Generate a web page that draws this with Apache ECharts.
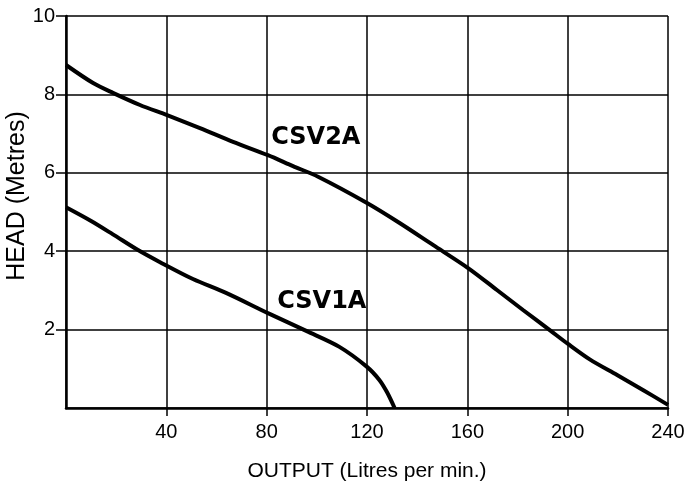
<!DOCTYPE html>
<html>
<head>
<meta charset="utf-8">
<script src="https://cdn.jsdelivr.net/npm/echarts@6/dist/echarts.min.js"></script>
<style>
    html, body { margin: 0; padding: 0; background: #fff; }
    #chart { width: 693px; height: 487px; }
</style>
</head>
<body>
<div id="chart"></div>
<script>
// pump curves: flow (litres/min) and head (metres)
const flowCSV2A = [0, 10.8, 18.7, 29.5, 40.3, 53.4, 66.6, 80.5, 90.5, 100.5, 120, 133, 146.3, 160.3, 171.8, 182.2, 193, 200, 208.8, 219.7, 230, 240]
const headCSV2A = [8.75, 8.29, 8.04, 7.73, 7.47, 7.14, 6.79, 6.45, 6.17, 5.9, 5.23, 4.72, 4.16, 3.57, 3.01, 2.5, 1.98, 1.64, 1.24, 0.84, 0.46, 0.08]

const flowCSV1A = [0, 10, 18.7, 28.7, 37.5, 50.6, 64, 80.5, 96, 109, 120, 125, 128, 131]
const headCSV1A = [5.12, 4.77, 4.43, 4.03, 3.72, 3.29, 2.93, 2.42, 1.96, 1.56, 1.05, 0.71, 0.4, 0.0]

// where the curve names sit (flow, head)
const labelCSV2A = [99.6, 6.9]
const labelCSV1A = [102, 2.71]

const xTicks = { min: 0, max: 240, interval: 40 }
const yTicks = { min: 0, max: 10, interval: 2 }

const pairs = (xs, ys) => xs.map((x, i) => [x, ys[i]])

const nameLabel = (text, coord) => ({
    symbol: 'circle',
    symbolSize: 1,
    itemStyle: { color: 'rgba(0,0,0,0)' },
    label: {
        show: true,
        position: 'inside',
        formatter: text,
        color: '#000',
        fontFamily: 'DejaVu Sans',
        fontWeight: 'bold',
        fontSize: 24
    },
    data: [{ coord: coord }]
})

const curve = (name, xs, ys, labelAt) => ({
    name: name,
    type: 'line',
    smooth: 0.3,
    showSymbol: false,
    lineStyle: { color: '#000', width: 4 },
    data: pairs(xs, ys),
    markPoint: nameLabel(name, labelAt)
})

const charts = echarts.init(document.getElementById('chart'))
charts.setOption({
    animation: false,
    grid: { left: 66, right: 25, top: 16, bottom: 79, outerBoundsMode: 'none', containLabel: false },
    xAxis: {
        type: 'value',
        min: xTicks.min,
        max: xTicks.max,
        interval: xTicks.interval,
        name: 'OUTPUT (Litres per min.)',
        nameLocation: 'middle',
        nameGap: 53,
        nameMoveOverlap: false,
        nameTextStyle: { color: '#000', fontFamily: 'Liberation Sans', fontSize: 21 },
        axisLine: { lineStyle: { color: '#000', width: 2.5 } },
        axisTick: { length: 8, lineStyle: { color: '#000', width: 1.5 } },
        axisLabel: { showMinLabel: false, margin: 14, color: '#000', fontFamily: 'Liberation Sans', fontSize: 20 },
        splitLine: { lineStyle: { color: '#000', width: 1.5 } }
    },
    yAxis: {
        type: 'value',
        min: yTicks.min,
        max: yTicks.max,
        interval: yTicks.interval,
        name: 'HEAD (Metres)',
        nameLocation: 'middle',
        nameGap: 36,
        nameMoveOverlap: false,
        nameTextStyle: { color: '#000', fontFamily: 'Liberation Sans', fontSize: 25, padding: [0, 0, 0, 32] },
        axisLine: { show: true, lineStyle: { color: '#000', width: 2.5 } },
        axisTick: { show: true, length: 10, lineStyle: { color: '#000', width: 1.5 } },
        axisLabel: { showMinLabel: false, margin: 11, color: '#000', fontFamily: 'Liberation Sans', fontSize: 20 },
        splitLine: { lineStyle: { color: '#000', width: 1.5 } }
    },
    series: [
        curve('CSV2A', flowCSV2A, headCSV2A, labelCSV2A),
        curve('CSV1A', flowCSV1A, headCSV1A, labelCSV1A)
    ]
})
</script>
</body>
</html>
